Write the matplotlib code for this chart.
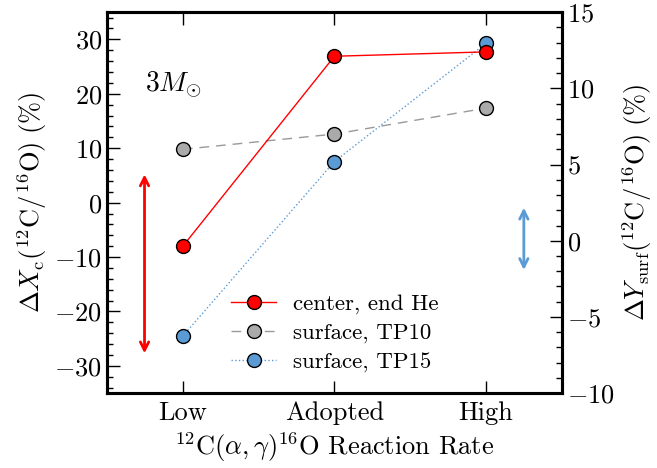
import matplotlib
matplotlib.use("Agg")
import matplotlib.pyplot as plt

plt.rcParams['font.family'] = 'serif'
plt.rcParams['font.serif'] = ['cmr10']
plt.rcParams['mathtext.fontset'] = 'cm'
plt.rcParams['axes.formatter.use_mathtext'] = True
plt.rcParams['axes.unicode_minus'] = True

categories = ["Low", "Adopted", "High"]
center_end_he = [-8.0, 26.9, 27.7]      # left axis
surface_tp10 = [6.0, 7.0, 8.7]          # right axis
surface_tp15 = [-6.25, 5.2, 12.95]      # right axis
red_arrow = [5.7, -28.2]                # left axis span
blue_arrow = [2.35, -2.1]               # right axis span

fig = plt.figure(figsize=(6.57, 4.68), dpi=100)
ax = fig.add_axes([0.163, 0.160, 0.692, 0.814])
ax2 = ax.twinx()
x = list(range(len(categories)))

ms = 10
ax.plot(x, center_end_he, '-', color='red', lw=1.0, marker='o', ms=ms,
        mfc='red', mec='black', mew=1.0, label='center, end He', zorder=5)
l2, = ax2.plot(x, surface_tp10, '--', color='#999999', lw=1.0, dashes=(7, 5), marker='o', ms=ms,
               mfc='#aaaaaa', mec='black', mew=1.0, label='surface, TP10', zorder=3)
l3, = ax2.plot(x, surface_tp15, ':', color='#5b9bd5', lw=1.0, marker='o', ms=ms,
               mfc='#5b9bd5', mec='black', mew=1.0, label='surface, TP15', zorder=4)

ax.annotate('', xy=(-0.253, red_arrow[1]), xytext=(-0.253, red_arrow[0]),
            arrowprops=dict(arrowstyle='<->', color='red', lw=2.0, mutation_scale=15))
ax2.annotate('', xy=(2.25, blue_arrow[1]), xytext=(2.25, blue_arrow[0]),
             arrowprops=dict(arrowstyle='<->', color='#5b9bd5', lw=2.0, mutation_scale=15))

ax.set_xlim(-0.5, 2.5)
ax.set_ylim(-35, 35)
ax2.set_ylim(-10, 15)
ax.set_xticks(x)
ax.set_xticklabels(categories)
ax.set_yticks([-30, -20, -10, 0, 10, 20, 30])
ax.set_yticks(range(-34, 35, 2), minor=True)
ax2.set_yticks([-10, -5, 0, 5, 10, 15])
ax2.set_yticks(range(-10, 16, 1), minor=True)

fs = 19
ax.tick_params(axis='both', which='major', direction='in', length=9, width=1, labelsize=fs, top=True)
ax.tick_params(axis='y', which='minor', direction='in', length=4.5, width=1)
ax.tick_params(axis='x', which='minor', bottom=False, top=False)
ax.tick_params(axis='x', pad=6)
ax2.tick_params(axis='y', which='major', direction='in', length=9, width=1, labelsize=fs)
ax2.tick_params(axis='y', which='minor', direction='in', length=4.5, width=1)

for a in (ax, ax2):
    for s in a.spines.values():
        s.set_linewidth(2.2)

ax.set_xlabel(r"$^{12}{\rm C}(\alpha,\gamma)^{16}{\rm O}$ Reaction Rate", fontsize=fs)
ax.set_ylabel(r"$\Delta X_{\rm c}(^{12}{\rm C}/^{16}{\rm O})\ (\%)$", fontsize=fs)
ax2.set_ylabel(r"$\Delta Y_{\rm surf}(^{12}{\rm C}/^{16}{\rm O})\ (\%)$", fontsize=fs)

ax.text(0.083, 0.81, r"$3M_{\odot}$", transform=ax.transAxes, fontsize=20, va='center', ha='left')

h1, lab1 = ax.get_legend_handles_labels()
leg = ax.legend(h1 + [l2, l3], lab1 + [l2.get_label(), l3.get_label()],
                loc='lower left', bbox_to_anchor=(0.253, 0.03), frameon=False,
                fontsize=16.5, handlelength=1.96, labelspacing=0.38, handletextpad=0.74,
                borderaxespad=0.0)
ax.set_zorder(ax2.get_zorder() + 1)
ax.patch.set_visible(False)

fig.savefig("out.png", dpi=100)
